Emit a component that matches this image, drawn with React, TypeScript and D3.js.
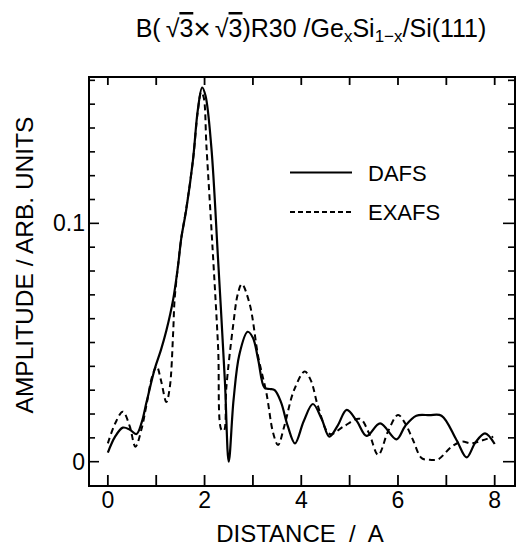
import * as d3 from "d3";

// distance (A), amplitude (arb. units)
const dafs: [number, number][] = [
  [0.0, 0.0038], [0.15, 0.0105], [0.31, 0.0143], [0.45, 0.0135], [0.59, 0.0116],
  [0.7, 0.0165], [0.8, 0.025], [0.97, 0.039], [1.1, 0.047], [1.21, 0.055],
  [1.35, 0.068], [1.45, 0.082], [1.52, 0.094], [1.62, 0.1056], [1.76, 0.1265],
  [1.86, 0.1475], [1.95, 0.157], [2.02, 0.1535], [2.14, 0.132], [2.28, 0.0846],
  [2.42, 0.034], [2.5, 0.0], [2.6, 0.026], [2.72, 0.045], [2.89, 0.0545],
  [3.0, 0.052], [3.11, 0.0427], [3.24, 0.031], [3.35, 0.0305], [3.45, 0.03],
  [3.58, 0.025], [3.72, 0.015], [3.87, 0.0077], [4.05, 0.017], [4.24, 0.0242],
  [4.42, 0.018], [4.58, 0.0105], [4.75, 0.015], [4.94, 0.0217], [5.15, 0.017],
  [5.35, 0.0108], [5.63, 0.0161], [5.97, 0.0094], [6.15, 0.015], [6.38, 0.0193],
  [6.65, 0.0195], [6.9, 0.0193], [7.21, 0.0091], [7.42, 0.0018], [7.6, 0.008],
  [7.8, 0.0119], [8.0, 0.0074],
];

const exafs: [number, number][] = [
  [0.0, 0.0077], [0.15, 0.016], [0.31, 0.021], [0.45, 0.015], [0.57, 0.0063],
  [0.7, 0.014], [0.8, 0.024], [0.92, 0.036], [1.01, 0.04], [1.1, 0.034],
  [1.21, 0.025], [1.28, 0.031], [1.35, 0.054], [1.38, 0.068], [1.45, 0.082],
  [1.52, 0.094], [1.62, 0.106], [1.76, 0.1265], [1.86, 0.147], [1.93, 0.155],
  [1.98, 0.153], [2.04, 0.132], [2.17, 0.088], [2.28, 0.048], [2.35, 0.0133],
  [2.4, 0.013], [2.45, 0.031], [2.59, 0.057], [2.69, 0.0706], [2.77, 0.0745],
  [2.93, 0.0664], [3.11, 0.044], [3.28, 0.0287], [3.42, 0.0119], [3.52, 0.007],
  [3.65, 0.015], [3.85, 0.03], [4.07, 0.0378], [4.2, 0.034], [4.35, 0.023],
  [4.59, 0.0116], [4.87, 0.0147], [5.21, 0.018], [5.4, 0.012], [5.59, 0.0028],
  [5.8, 0.013], [6.0, 0.0196], [6.15, 0.016], [6.31, 0.0091], [6.49, 0.0015],
  [6.66, 0.0008], [6.83, 0.001], [7.11, 0.0063], [7.32, 0.0084], [7.52, 0.0077],
  [7.75, 0.009], [7.97, 0.0105],
];

const xTicks = [0, 1, 2, 3, 4, 5, 6, 7, 8];
const xTickLabels = [0, 2, 4, 6, 8];
const yTicks = d3.range(0, 17).map((i) => i / 100);
const yTickLabels = [
  { v: 0, t: "0" },
  { v: 0.1, t: "0.1" },
];
const legendItems = [
  { name: "DAFS", dash: "none" },
  { name: "EXAFS", dash: "5 3" },
];

const W = 522;
const H = 548;
const frame = { left: 89, right: 515, top: 77, bottom: 486 };
const font = "'Liberation Sans', Arial, Helvetica, sans-serif";

export default function App() {
  const x = d3.scaleLinear().domain([-0.39, 8.42]).range([frame.left, frame.right]);
  const y = d3.scaleLinear().domain([-0.0102, 0.1614]).range([frame.bottom, frame.top]);

  const line = d3
    .line<[number, number]>()
    .x((d) => x(d[0]))
    .y((d) => y(d[1]))
    .curve(d3.curveCatmullRom.alpha(0.5));

  return (
    <svg
      width={W}
      height={H}
      style={{ position: "absolute", left: 0, top: 0, background: "#fff" }}
      fontFamily={font}
    >
      {/* title */}
      <text x={311} y={37} fontSize={25} textAnchor="middle" fill="#000">
        B(<tspan dx={5}>√</tspan>
        <tspan textDecoration="overline">3</tspan>
        <tspan fontSize={30} dy={2}>×</tspan>
        <tspan dx={4} dy={-2}>√</tspan>
        <tspan textDecoration="overline">3</tspan>)R30 /Ge
        <tspan fontSize={17} dy={5}>x</tspan>
        <tspan dy={-5}>Si</tspan>
        <tspan fontSize={17} dy={5}>1−x</tspan>
        <tspan dy={-5}>/Si(111)</tspan>
      </text>

      {/* frame */}
      <rect
        x={frame.left}
        y={frame.top}
        width={frame.right - frame.left}
        height={frame.bottom - frame.top}
        fill="none"
        stroke="#000"
        strokeWidth={2}
      />

      {/* x ticks, bottom and top */}
      {xTicks.map((t) => (
        <g key={"xt" + t} stroke="#000" strokeWidth={1.8}>
          <line x1={x(t)} x2={x(t)} y1={frame.bottom} y2={frame.bottom - 11} />
          <line x1={x(t)} x2={x(t)} y1={frame.top} y2={frame.top + 8} />
        </g>
      ))}
      {xTickLabels.map((t) => (
        <text key={"xl" + t} x={x(t)} y={508} fontSize={23} textAnchor="middle">
          {t}
        </text>
      ))}

      {/* y ticks, left and right */}
      {yTicks.map((t, i) => {
        const major = i % 10 === 0;
        return (
          <g key={"yt" + i} stroke="#000" strokeWidth={1.6}>
            <line x1={frame.left} x2={frame.left + (major ? 10 : 6)} y1={y(t)} y2={y(t)} />
            <line x1={frame.right} x2={frame.right - (major ? 12 : 7)} y1={y(t)} y2={y(t)} />
          </g>
        );
      })}
      {yTickLabels.map((d) => (
        <text key={"yl" + d.t} x={85} y={y(d.v) + 8} fontSize={23} textAnchor="end">
          {d.t}
        </text>
      ))}

      {/* axis titles */}
      <text x={300} y={542} fontSize={24} textAnchor="middle" style={{ whiteSpace: "pre" }}>
        {"DISTANCE  /  A"}
      </text>
      <text
        transform="translate(33,265) rotate(-90)"
        fontSize={24.5}
        textAnchor="middle"
      >
        AMPLITUDE / ARB. UNITS
      </text>

      {/* curves */}
      <path d={line(exafs) ?? ""} fill="none" stroke="#000" strokeWidth={2} strokeDasharray="6 4" />
      <path d={line(dafs) ?? ""} fill="none" stroke="#000" strokeWidth={2.2} />

      {/* legend */}
      {legendItems.map((d, i) => (
        <g key={d.name} transform={`translate(0,${172.5 + i * 39.5})`}>
          <line x1={290} x2={352} y1={0} y2={0} stroke="#000" strokeWidth={2} strokeDasharray={d.dash} />
          <text x={368} y={8} fontSize={22}>
            {d.name}
          </text>
        </g>
      ))}
    </svg>
  );
}
